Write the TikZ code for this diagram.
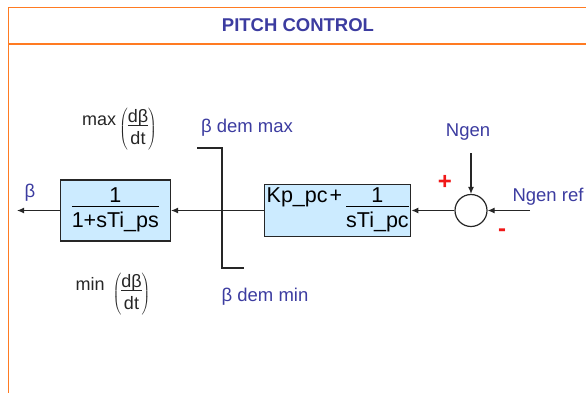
\documentclass[tikz,border=0pt]{standalone}
\usepackage{fontspec}
\setmainfont{Liberation Sans}
\usetikzlibrary{arrows.meta, positioning}
\definecolor{frameorange}{HTML}{FF7B22}
\definecolor{labelblue}{HTML}{3C3CA0}
\definecolor{blockblue}{HTML}{CCEBFF}
\definecolor{signred}{HTML}{F01818}
\setlength{\arrayrulewidth}{1pt}
\newcommand{\ratefrac}{$\left(\vcenter{\hbox{\begin{tabular}{@{}c@{}}dβ\\[-3pt]\hline\rule{0pt}{18pt}dt\end{tabular}}}\right)$}
\tikzset{
    panelframe/.style={line width=1.8pt, color=frameorange},
    paneltitle/.style={font=\fontsize{18.5}{20}\selectfont\bfseries, text=labelblue},
    tfblock/.style={rectangle, draw=black!85, line width=1.4pt, fill=blockblue, inner sep=0pt, align=center, font=\fontsize{21.5}{23}\selectfont},
    sumjunction/.style={circle, draw=black!85, fill=white, line width=1.2pt, minimum size=32pt, inner sep=0pt},
    signal/.style={font=\fontsize{18.5}{20}\selectfont, text=labelblue},
    ratelimit/.style={font=\fontsize{18}{20}\selectfont, text=black!85},
    signmark/.style={font=\fontsize{24}{26}\selectfont\bfseries, text=signred},
    arrow/.style={line width=1.2pt, -{Latex[length=7pt,width=6pt]}, color=black!85},
    limiter/.style={line width=1.2pt, color=black!85}
}

\begin{document}
\begin{tikzpicture}[x=1pt, y=-1pt]
    \useasboundingbox (0,0) rectangle (586,392);
    \clip (0,0) rectangle (586,392);
    \draw [panelframe] (8.5,7.5) rectangle (600,420);
    \draw [panelframe] (8.5,44) -- (600,44);
    \node (title) [paneltitle] at (298,25.5) {PITCH CONTROL};

    \node (sum) [sumjunction] at (471,210.5) {};
    \node (pidblock) [tfblock, minimum width=146pt, minimum height=52pt, left=43pt of sum] {Kp\_pc\hspace{2pt}+\hspace{4pt}\begin{tabular}[t]{@{}c@{}}1\\[-4pt]\hline\rule{0pt}{21pt}sTi\_pc\end{tabular}};
    \node (lagblock) [tfblock, minimum width=110pt, minimum height=61pt, left=93pt of pidblock] {\begin{tabular}{@{}c@{}}1\\[-4pt]\hline\rule{0pt}{21pt}1+sTi\_ps\end{tabular}};

    \node (ngen) [signal] at (468,132) {Ngen};
    \node (ngenref) [signal, anchor=west] at (509,197) {Ngen ref};
    \node (beta) [signal] at (30,193) {β};
    \node (plus) [signmark] at (445,182) {+};
    \node (minus) [signmark] at (502,233) {-};
    \coordinate (ngenin) at (471,153);
    \coordinate (refin) at (530,210.5);
    \coordinate (betaout) at (17,210.5);

    \draw [arrow] (ngenin) -- (sum);
    \draw [arrow] (refin) -- (sum);
    \draw [arrow] (sum) -- (pidblock);
    \draw [arrow] (pidblock) -- (lagblock);
    \draw [arrow] (lagblock) -- (betaout);

    \coordinate (limtop) at (222,148);
    \coordinate (limbot) at (222,268);
    \draw [limiter] ([xshift=-25pt]limtop) -- (limtop) -- (limbot) -- ([xshift=22pt]limbot);
    \node (demmax) [signal] at (247,128) {β dem max};
    \node (demmin) [signal] at (265,297) {β dem min};
    \node (ratemax) [ratelimit] at (119.5,129) {\raisebox{8pt}{max}\hspace{3pt}\ratefrac};
    \node (ratemin) [ratelimit] at (113,294) {\raisebox{8pt}{min}\hspace{8pt}\ratefrac};
\end{tikzpicture}
\end{document}
